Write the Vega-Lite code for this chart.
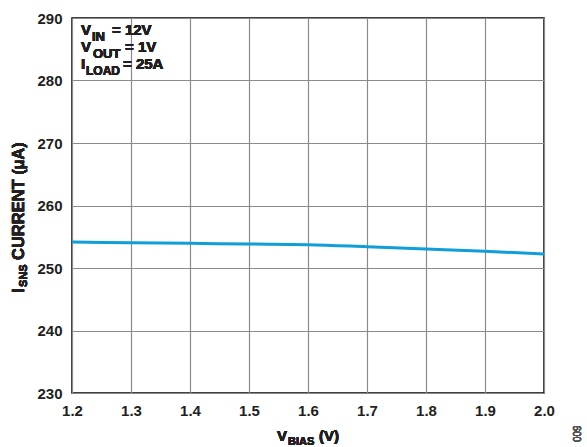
{
  "$schema": "https://vega.github.io/schema/vega-lite/v6.json",
  "width": 472,
  "height": 375,
  "autosize": {"type": "none"},
  "padding": {"left": 72, "top": 18, "right": 43, "bottom": 54},
  "background": "white",
  "config": {
    "view": {"stroke": "#000000", "strokeWidth": 1.5},
    "font": "Liberation Sans",
    "text": {"font": "Liberation Sans", "fontWeight": "bold", "color": "#231f20", "align": "left", "baseline": "alphabetic"}
  },
  "data": {
    "values": [
      {"vbias": 1.2, "isns": 254.16},
      {"vbias": 1.3, "isns": 254.05},
      {"vbias": 1.4, "isns": 253.95},
      {"vbias": 1.5, "isns": 253.84},
      {"vbias": 1.6, "isns": 253.73},
      {"vbias": 1.7, "isns": 253.40},
      {"vbias": 1.8, "isns": 253.04},
      {"vbias": 1.9, "isns": 252.67},
      {"vbias": 2.0, "isns": 252.24}
    ]
  },
  "layer": [
    {
      "mark": {"type": "line", "color": "#0e9fd8", "strokeWidth": 3, "interpolate": "monotone"},
      "encoding": {
        "x": {
          "field": "vbias", "type": "quantitative",
          "scale": {"domain": [1.2, 2.0], "nice": false, "zero": false},
          "axis": {
            "values": [1.2, 1.3, 1.4, 1.5, 1.6, 1.7, 1.8, 1.9, 2.0],
            "format": ".1f", "title": null, "domain": false, "ticks": false,
            "labelFlush": false, "labelOverlap": false,
            "grid": true, "gridColor": "#8a8a8a", "gridWidth": 1.2, "gridOpacity": 1,
            "labelFont": "Liberation Sans", "labelFontWeight": "bold", "labelFontSize": 15,
            "labelColor": "#231f20", "labelPadding": 10
          }
        },
        "y": {
          "field": "isns", "type": "quantitative",
          "scale": {"domain": [230, 290], "nice": false, "zero": false},
          "axis": {
            "values": [230, 240, 250, 260, 270, 280, 290],
            "title": null, "domain": false, "ticks": false,
            "labelFlush": false, "labelOverlap": false,
            "grid": true, "gridColor": "#8a8a8a", "gridWidth": 1.2, "gridOpacity": 1,
            "labelFont": "Liberation Sans", "labelFontWeight": "bold", "labelFontSize": 15,
            "labelColor": "#231f20", "labelPadding": 10
          }
        }
      }
    },
    {"mark": {"type": "text", "text": "V", "fontSize": 15, "dx": 9, "dy": 17}, "encoding": {"x": {"datum": 1.2}, "y": {"datum": 290}}},
    {"mark": {"type": "text", "text": "IN", "fontSize": 13, "dx": 20, "dy": 23}, "encoding": {"x": {"datum": 1.2}, "y": {"datum": 290}}},
    {"mark": {"type": "text", "text": "= 12V", "fontSize": 15, "dx": 40, "dy": 17}, "encoding": {"x": {"datum": 1.2}, "y": {"datum": 290}}},
    {"mark": {"type": "text", "text": "V", "fontSize": 15, "dx": 9, "dy": 34}, "encoding": {"x": {"datum": 1.2}, "y": {"datum": 290}}},
    {"mark": {"type": "text", "text": "OUT", "fontSize": 13, "dx": 21, "dy": 40}, "encoding": {"x": {"datum": 1.2}, "y": {"datum": 290}}},
    {"mark": {"type": "text", "text": "= 1V", "fontSize": 15, "dx": 53, "dy": 34}, "encoding": {"x": {"datum": 1.2}, "y": {"datum": 290}}},
    {"mark": {"type": "text", "text": "I", "fontSize": 15, "dx": 9, "dy": 51}, "encoding": {"x": {"datum": 1.2}, "y": {"datum": 290}}},
    {"mark": {"type": "text", "text": "LOAD", "fontSize": 12, "dx": 14, "dy": 57}, "encoding": {"x": {"datum": 1.2}, "y": {"datum": 290}}},
    {"mark": {"type": "text", "text": "= 25A", "fontSize": 15, "dx": 51, "dy": 51}, "encoding": {"x": {"datum": 1.2}, "y": {"datum": 290}}},
    {"mark": {"type": "text", "text": "V", "fontSize": 15, "dx": 205, "dy": 48}, "encoding": {"x": {"datum": 1.2}, "y": {"datum": 230}}},
    {"mark": {"type": "text", "text": "BIAS", "fontSize": 11, "dx": 216, "dy": 52}, "encoding": {"x": {"datum": 1.2}, "y": {"datum": 230}}},
    {"mark": {"type": "text", "text": "(V)", "fontSize": 15, "dx": 247, "dy": 48}, "encoding": {"x": {"datum": 1.2}, "y": {"datum": 230}}},
    {"mark": {"type": "text", "text": "I", "fontSize": 17, "angle": 270, "dx": 100, "dy": -48}, "encoding": {"x": {"datum": 1.2}, "y": {"datum": 230}}},
    {"mark": {"type": "text", "text": "SNS", "fontSize": 11, "angle": 270, "dx": 106, "dy": -45}, "encoding": {"x": {"datum": 1.2}, "y": {"datum": 230}}},
    {"mark": {"type": "text", "text": "CURRENT (µA)", "fontSize": 16.5, "angle": 270, "dx": 133, "dy": -48}, "encoding": {"x": {"datum": 1.2}, "y": {"datum": 230}}},
    {"mark": {"type": "text", "text": "009", "fontSize": 10, "fontWeight": "normal", "color": "#555555", "angle": 270, "dx": -49, "dy": 37}, "encoding": {"x": {"datum": 2.0}, "y": {"datum": 230}}}
  ]
}
